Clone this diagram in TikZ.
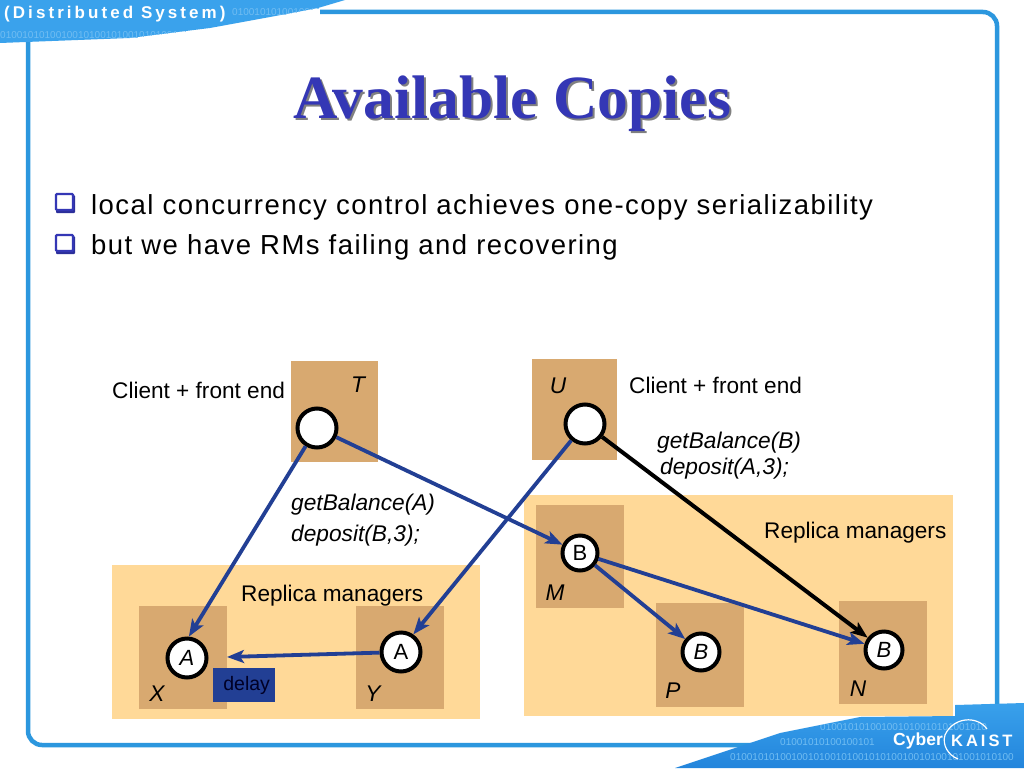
\documentclass[tikz,border=0pt]{standalone}
\usepackage{fontspec}
\setmainfont{Liberation Sans}
\newfontfamily\titlefont{Liberation Serif}
\newfontfamily\bodyfont[LetterSpace=5.3]{Liberation Sans}
\newfontfamily\brandfont[LetterSpace=18]{Liberation Sans}
\usetikzlibrary{arrows.meta}
\definecolor{sandbg}{HTML}{FFD998}
\definecolor{brownbox}{HTML}{D8A970}
\definecolor{arrowblue}{HTML}{223F94}
\definecolor{framebl}{HTML}{2C97DE}
\definecolor{bannerbl}{HTML}{3AA2EC}
\definecolor{bannerdk}{HTML}{2385DC}
\definecolor{digitbl}{HTML}{71BDF2}
\definecolor{titlebl}{HTML}{3437B5}
\tikzset{
  x=1pt,y=-1pt,
  repl/.style={circle,draw=black,fill=white,line width=4pt,inner sep=0pt,font=\fontsize{22}{24}\selectfont},
  lbl/.style={inner sep=0pt,font=\fontsize{22.6}{26}\selectfont},
  ilbl/.style={inner sep=0pt,font=\fontsize{22.7}{26}\selectfont\itshape},
  conn/.style={draw=arrowblue,line width=3.8pt,-{Stealth[length=17pt,width=13pt,inset=4pt]}},
  bconn/.style={draw=black,line width=4pt,-{Stealth[length=17pt,width=13pt,inset=4pt]}},
  digits/.style={inner sep=0pt,anchor=west,text=digitbl,font=\fontsize{10}{10}\selectfont},
  bul/.style={draw=titlebl,line width=2.4pt,fill=white,rounded corners=1pt},
}
\begin{document}
\begin{tikzpicture}
\useasboundingbox (0,0) rectangle (1024,768);
\fill[white] (0,0) rectangle (1024,768);
% frame
\draw[framebl,line width=4.5pt,rounded corners=14pt] (28,40) -- (28,745) -- (997,745) -- (997,12) -- (320,12);
% top-left banner
\begin{scope}
\clip (0,0) -- (345,0) -- (318,8) -- (270,17) -- (210,28) -- (130,38) -- (0,43) -- cycle;
\fill[bannerbl] (0,0) rectangle (350,45);
\node[digits] (dg1) at (0,35) {01001010100100101001010010101001001010};
\node[digits] (dg2) at (232,12) {010010101001001010};
\end{scope}
\node[inner sep=0pt,anchor=west,text=white,font=\fontsize{17}{18}\selectfont\bfseries] (ds) at (4,14) {\brandfont\bfseries (Distributed System)};
% bottom-right banner
\begin{scope}
\clip (1024,768) -- (675,768) -- (780,733) -- (860,717) -- (955,716) -- (955,705) -- (1024,703) -- cycle;
\shade[top color=bannerbl,bottom color=bannerdk] (670,700) rectangle (1024,768);
\node[digits] (dg3) at (730,757) {010010101001001010010100101010010010100101001010100};
\node[digits] (dg4) at (780,742) {01001010100100101};
\node[digits] (dg5) at (820,727) {010010101001001010010101001010};
\end{scope}
\node[inner sep=0pt,anchor=west,text=white,font=\fontsize{17.5}{18}\selectfont\bfseries] (cy) at (893,741) {Cyber};
\node[inner sep=0pt,anchor=west,text=white,font=\fontsize{16.5}{18}\selectfont\bfseries] (ka) at (951,741) {\brandfont\bfseries KAIST};
\draw[white,line width=1.2pt] (987,729) .. controls (977,715) and (953,717) .. (945,735) .. controls (942,745) and (948,755) .. (958,759);
% title
\node[inner sep=0pt,text=black!50,font=\fontsize{61.5}{66}\selectfont\bfseries] (titles) at (514,106) {\titlefont\bfseries Available Copies};
\node[inner sep=0pt,text=titlebl,font=\fontsize{61.5}{66}\selectfont\bfseries] (title) at (512,104) {\titlefont\bfseries Available Copies};
% bullets
\foreach \yy in {203,244}{
  \fill[titlebl!85!black,rounded corners=1pt] (56,\yy-8) rectangle (75,\yy+10);
  \draw[bul] (56,\yy-9) rectangle (73,\yy+7);
}
\node[inner sep=0pt,anchor=base west,font=\fontsize{27.5}{30}\selectfont] (b1) at (91,214) {\bodyfont local concurrency control achieves one-copy serializability};
\node[inner sep=0pt,anchor=base west,font=\fontsize{27.5}{30}\selectfont] (b2) at (91,254) {\bodyfont but we have RMs failing and recovering};
% panels
\fill[sandbg] (112,565) rectangle (480,719);
\fill[sandbg] (524,495) rectangle (953,716);
\fill[brownbox] (139,606) rectangle (227,709);
\fill[brownbox] (356,606) rectangle (444,709);
\fill[brownbox] (291,361) rectangle (378,462);
\fill[brownbox] (532,359) rectangle (617,460);
\fill[brownbox] (536,505) rectangle (624,608);
\fill[brownbox] (656,603) rectangle (744,707);
\fill[brownbox] (839,601) rectangle (927,704);
% delay
\node[fill=arrowblue,text=black!85!blue,minimum width=62pt,minimum height=34pt,inner sep=0pt,anchor=north west,font=\fontsize{19.5}{22}\selectfont] (delay) at (213,668) {\hspace*{5pt}\raisebox{2pt}{delay}};
% circles
\node[repl,minimum size=39pt] (ct) at (317,428) {};
\node[repl,minimum size=39pt] (cu) at (585,424) {};
\node[repl,minimum size=39pt] (ax) at (187,658) {\itshape A};
\node[repl,minimum size=39pt] (ay) at (401,652) {A};
\node[repl,minimum size=35pt] (bm) at (580,553) {B};
\node[repl,minimum size=37pt] (bp) at (701,652) {\itshape B};
\node[repl,minimum size=37pt] (bn) at (884,650) {\itshape B};
\coordinate (dend) at (227,657);
% connectors
\draw[conn] (ct.-122) -- (ax.85);
\draw[conn] (ct) -- (bm);
\draw[conn] (cu.-130) -- (ay.55);
\draw[bconn] (cu) -- (bn);
\draw[conn] (bm) -- (bp);
\draw[conn] (bm) -- (bn);
\draw[conn] (ay) -- (dend);
% labels
\node[lbl,anchor=west] (l1) at (112,390) {Client + front end};
\node[lbl,anchor=west] (l2) at (629,385) {Client + front end};
\node[ilbl] (lt) at (358,385) {T};
\node[ilbl] (lu) at (558,386) {U};
\node[ilbl,anchor=west] (g1) at (657,443) {getBalance(B)};
\node[ilbl,anchor=west] (g2) at (660,469) {deposit(A,3);};
\node[ilbl,anchor=west] (g3) at (291,505) {getBalance(A)};
\node[ilbl,anchor=west] (g4) at (291,536) {deposit(B,3);};
\node[lbl,anchor=west] (r1) at (764,533) {Replica managers};
\node[lbl,anchor=west] (r2) at (241,596) {Replica managers};
\node[ilbl] (lm) at (555,593) {M};
\node[ilbl] (lx) at (157,694) {X};
\node[ilbl] (ly) at (373,694) {Y};
\node[ilbl] (lp) at (673,691) {P};
\node[ilbl] (ln) at (858,689) {N};
\end{tikzpicture}
\end{document}
